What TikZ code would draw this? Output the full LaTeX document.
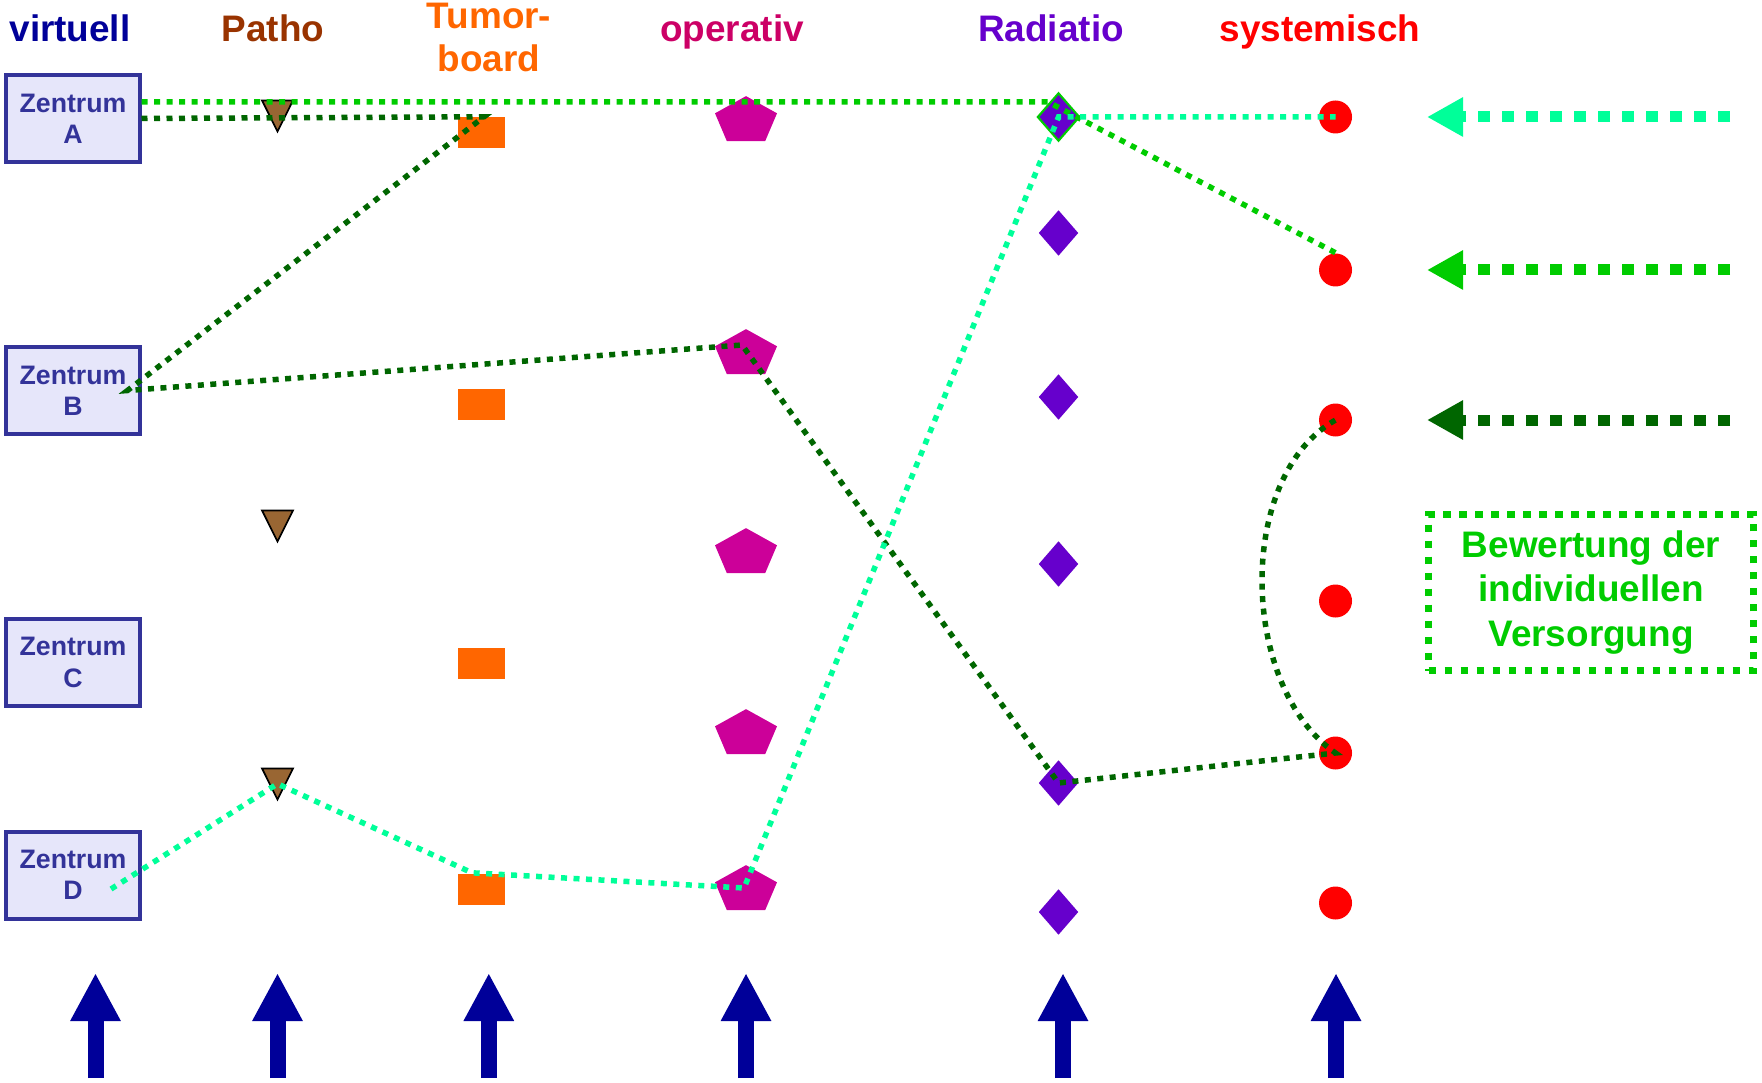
\documentclass[tikz,border=0pt]{standalone}
\usepackage{fontspec}
\setmainfont{Liberation Sans}
\usepackage[HTML]{xcolor}
\usetikzlibrary{positioning, arrows.meta, shapes.geometric, calc}

\definecolor{navy}{HTML}{000099}
\definecolor{zline}{HTML}{333399}
\definecolor{zfill}{HTML}{E6E6FA}
\definecolor{patho}{HTML}{993300}
\definecolor{pathofill}{HTML}{996633}
\definecolor{tumor}{HTML}{FF6600}
\definecolor{optext}{HTML}{CC0066}
\definecolor{opfill}{HTML}{CC0099}
\definecolor{radio}{HTML}{6600CC}
\definecolor{syst}{HTML}{FF0000}
\definecolor{lgreen}{HTML}{00CC00}
\definecolor{dgreen}{HTML}{006600}
\definecolor{mint}{HTML}{00FF99}

\begin{document}
\begin{tikzpicture}[
  title/.style={font=\fontsize{10.5}{12.2}\selectfont\bfseries, inner sep=0pt, align=center},
  zbox/.style={draw=zline, fill=zfill, line width=0.04cm, minimum width=1.33cm, minimum height=0.87cm,
    inner sep=0pt, align=center, text=zline, font=\fontsize{7.6}{8.9}\selectfont\bfseries},
  pmark/.style={regular polygon, regular polygon sides=3, shape border rotate=180, minimum size=0.358cm,
    yscale=1.157, inner sep=0pt, fill=pathofill, draw=black, line width=0.5pt},
  tmark/.style={rectangle, minimum width=0.47cm, minimum height=0.31cm, inner sep=0pt, fill=tumor},
  omark/.style={regular polygon, regular polygon sides=5, minimum size=0.652cm, yscale=0.763,
    inner sep=0pt, fill=opfill},
  rmark/.style={diamond, minimum width=0.40cm, minimum height=0.46cm, inner sep=0pt, fill=radio},
  smark/.style={circle, minimum size=0.33cm, inner sep=0pt, fill=syst},
  link/.style={line width=0.055cm, dash pattern=on 0.06cm off 0.065cm},
  feed/.style={line width=0.11cm, dash pattern=on 0.12cm off 0.12cm, -{Triangle[length=0.36cm, width=0.37cm]}},
  uparrow/.style={navy, line width=0.16cm, -{Triangle[length=0.48cm, width=0.47cm]}}
]
\useasboundingbox (0,0) rectangle (17.62,10.82);

% Column titles
\node[title, text=navy, anchor=base] (hVirt) at (0.70,10.40) {virtuell};
\node[title, text=patho, anchor=base] (hPatho) at (2.73,10.40) {Patho};
\node[title, text=tumor] (hTumor) at (4.89,10.447) {Tumor-\\board};
\node[title, text=optext, anchor=base] (hOp) at (7.32,10.40) {operativ};
\node[title, text=radio, anchor=base] (hRad) at (10.51,10.40) {Radiatio};
\node[title, text=syst, anchor=base] (hSys) at (13.20,10.40) {systemisch};

% Zentren
\foreach \i/\y in {A/9.635,B/6.915,C/4.195,D/2.07}{
  \node[zbox] (Z\i) at (0.73,\y) {Zentrum\\\i};
}

% Markers per column
\foreach \i/\y in {1/9.712,2/5.612,3/3.032}
  \node[pmark] (P\i) at (2.775,\y) {};
\foreach \i/\y in {1/9.49,2/6.775,3/4.19,4/1.93}
  \node[tmark] (T\i) at (4.81,\y) {};
\foreach \i/\y in {1/9.61,2/7.28,3/5.29,4/3.48,5/1.92}
  \node[omark] (O\i) at (7.46,\y) {};
\foreach \i/\y in {1/9.65,2/8.49,3/6.85,4/5.18,5/2.99,6/1.70}
  \node[rmark] (R\i) at (10.585,\y) {};
\draw[lgreen, line width=0.6pt] (R1.north) -- (R1.east) -- (R1.south) -- (R1.west) -- cycle;
\foreach \i/\y in {1/9.65,2/8.12,3/6.62,4/4.81,5/3.29,6/1.79}
  \node[smark] (S\i) at (13.355,\y) {};

% Pathways
\coordinate (lA) at ($(ZA.east)+(0,0.165)$);
\draw[link, lgreen] (lA) -- (lA -| R1.north west) -- (S2.north);
\draw[link, dgreen] (ZA.east) -- ($(T1.north)+(0.03,0)$) -- ($(ZB.east)+(-0.14,0)$)
  -- ($(O2.center)+(-0.04,0.09)$) -- (R5.center) -- (S5.center)
  .. controls (12.4,3.95) and (12.35,6.05) .. (S3.center);
\draw[link, mint] ($(ZD.center)+(0.38,-0.14)$) -- ($(P3.center)+(0,-0.05)$) -- ($(T4.north)+(-0.09,0)$)
  -- ($(O5.center)+(-0.02,0.02)$) -- (R1.center) -- (S1.center);

% Feedback arrows
\foreach \i/\y/\c in {1/9.65/mint,2/8.12/lgreen,3/6.62/dgreen}{
  \coordinate (Fs\i) at (17.30,\y);
  \coordinate (Fe\i) at (14.27,\y);
  \draw[feed, \c] (Fs\i) -- (Fe\i);
}

% Evaluation
\node[title, draw=lgreen, text=lgreen, line width=0.07cm, dash pattern=on 0.075cm off 0.085cm,
  minimum width=3.25cm, minimum height=1.56cm, font=\fontsize{10.5}{12.6}\selectfont\bfseries]
  (eval) at (15.91,4.895) {Bewertung der\\individuellen\\Versorgung};

% Input arrows
\foreach \i/\x in {1/0.955,2/2.775,3/4.888,4/7.46,5/10.63,6/13.36}{
  \coordinate (Ub\i) at (\x,0.04);
  \coordinate (Ut\i) at (\x,1.09);
  \draw[uparrow] (Ub\i) -- (Ut\i);
}
\end{tikzpicture}
\end{document}
